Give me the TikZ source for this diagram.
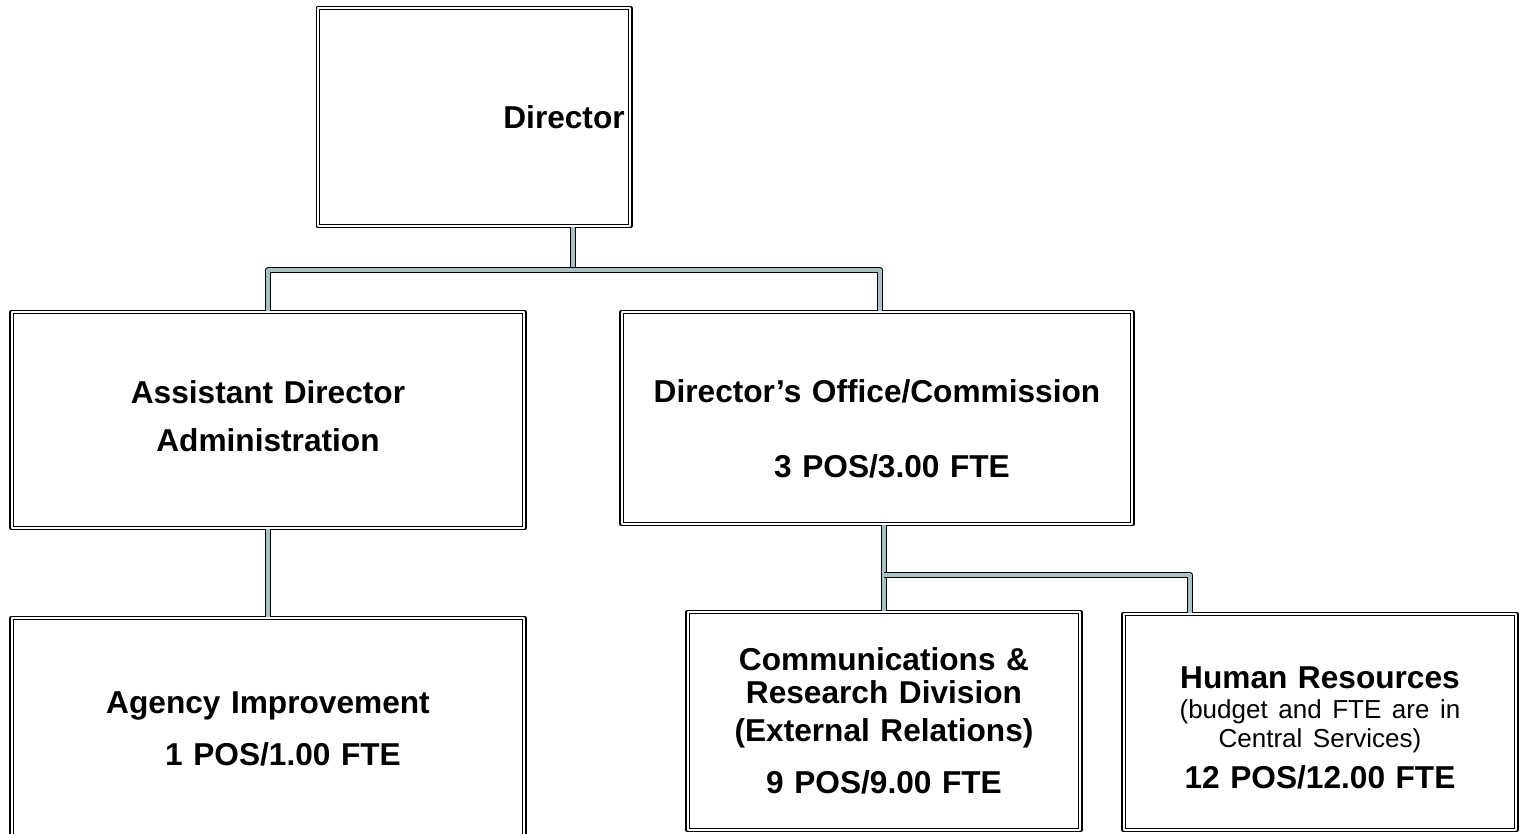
\documentclass[tikz,border=0pt]{standalone}
\usepackage{fontspec}
\setmainfont{Liberation Sans}
\usepackage{tikz}
\usepackage{xcolor}
\definecolor{OrgBlack}{HTML}{000000}
\definecolor{OrgConn}{HTML}{A9C1C5}
\usetikzlibrary{positioning}

\begin{document}
\begin{tikzpicture}[x=0.025cm, y=-0.025cm,
    orgbox/.style={draw=OrgBlack, line width=1.3pt, double=white, double distance=0.9pt,
      line join=round, inner sep=0pt, align=center,
      font=\fontsize{22.5}{27}\selectfont\bfseries},
    conn/.style={draw=OrgBlack, line width=1.1pt, double=OrgConn, double distance=2.2pt,
      line join=round}]
  \useasboundingbox (0,0) rectangle (1522,834);
  % boxes
  \node[orgbox, text width=7.8cm, minimum height=5.45cm] (director) at (474,117)
    {\hspace*{4.5cm}Director};
  \node[orgbox, text width=12.8cm, minimum height=5.4cm] (asst) at (268,420)
    {Assistant Director\\[7pt]Administration\rule[-6pt]{0pt}{6pt}};
  \node[orgbox, text width=12.75cm, minimum height=5.3cm] (office) at (877,418)
    {\rule{0pt}{32pt}Director’s Office/Commission\\[26pt]\hspace*{0.75cm}3 POS/3.00 FTE};
  \node[orgbox, text width=12.8cm, minimum height=5.55cm] (agency) at (268,729)
    {Agency Improvement\\[10pt]\hspace*{0.75cm}1 POS/1.00 FTE};
  \node[orgbox, text width=9.8cm, minimum height=5.45cm] (comm) at (884,721)
    {Communications \&\\[-3.6pt]Research Division\\(External Relations)\\[10pt]9 POS/9.00 FTE};
  \node[orgbox, text width=9.8cm, minimum height=5.4cm] (hr) at (1320,722)
    {\rule{0pt}{24pt}Human Resources\\[-6pt]{\mdseries\fontsize{18.5}{23}\selectfont (budget and FTE are in}\\[-6.5pt]%
     {\mdseries\fontsize{18.5}{23}\selectfont Central Services)}\\[2pt]12 POS/12.00 FTE};
  % connectors
  \coordinate (bus) at (573,270);
  \coordinate (split) at (1190,575);
  \draw[conn] (director.south -| bus) -- (bus);
  \draw[conn] (asst.north) |- (bus) -| (office.north -| 880,0);
  \draw[conn] (asst.south) -- (agency.north);
  \draw[conn] (comm.north |- office.south) -- (comm.north);
  \draw[conn] (comm.north |- split) -- (split) -- (split |- hr.north);
\end{tikzpicture}
\end{document}
